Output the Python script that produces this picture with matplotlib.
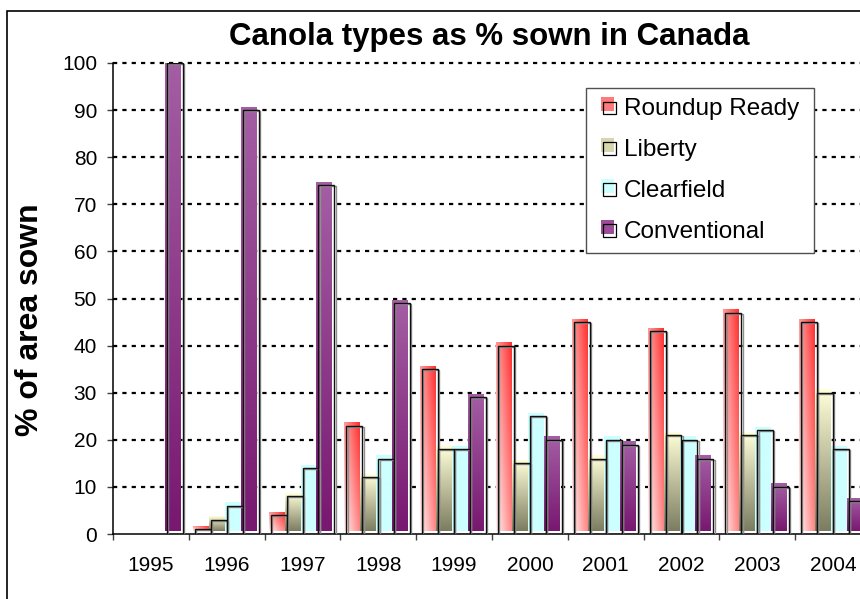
import numpy as np
import matplotlib
matplotlib.use('Agg')
import matplotlib.pyplot as plt
from matplotlib.patches import Rectangle, Patch
from matplotlib.legend_handler import HandlerBase

plt.rcParams['font.family'] = ['Liberation Sans', 'DejaVu Sans']

# Data (% of canola area sown)
years = ['1995', '1996', '1997', '1998', '1999', '2000', '2001', '2002', '2003', '2004']
roundup = [0, 1, 4, 23, 35, 40, 45, 43, 47, 45]
liberty = [0, 3, 8, 12, 18, 15, 16, 21, 21, 30]
clearfield = [0, 6, 14, 16, 18, 25, 20, 20, 22, 18]
conventional = [100, 90, 74, 49, 29, 20, 19, 16, 10, 7]
series_names = ['Roundup Ready', 'Liberty', 'Clearfield', 'Conventional']
yticks = list(range(0, 101, 10))

W, H = 860, 599
fig = plt.figure(figsize=(W / 100, H / 100), dpi=100)
# plot area in pixels: x 113..871 (runs off the right edge), y 63..534
ax = fig.add_axes([113 / W, (H - 534) / H, 758 / W, 471 / H])
ax.set_autoscale_on(False)
ax.set_xlim(0, len(years))
ax.set_ylim(0, 100)

px = len(years) / 758.0   # one pixel in x data units
py = 100 / 471.0          # one pixel in y data units


def hex2rgb(h):
    return np.array(matplotlib.colors.to_rgb(h))


def gradient(kind, nx=24, ny=96):
    xf = np.linspace(0, 1, nx)[None, :, None]
    yf = np.linspace(0, 1, ny)[:, None, None]
    if kind == 0:   # pink -> red, towards top right
        t = 0.55 * xf + 0.45 * yf
        lo, hi = hex2rgb('#FFF2F2'), hex2rgb('#FF3030')
    elif kind == 1:  # olive -> pale yellow, bottom to top
        t = yf + 0 * xf
        lo, hi = hex2rgb('#7C7C60'), hex2rgb('#FFFFD8')
    elif kind == 2:
        t = 0 * yf + 0 * xf
        lo, hi = hex2rgb('#CCFFFF'), hex2rgb('#CCFFFF')
    else:
        t = yf + 0 * xf
        lo, hi = hex2rgb('#781870'), hex2rgb('#A45EA4')
    return lo + (hi - lo) * t


all_series = [roundup, liberty, clearfield, conventional]
gap = 0.75
bw = 1.0 / (len(all_series) + gap)
for k, vals in enumerate(all_series):
    img = gradient(k)
    for i, v in enumerate(vals):
        if v <= 0:
            continue
        x0 = i + gap * bw / 2 + k * bw
        # filled body, nudged up/left like the original rendering
        ax.imshow(img, extent=[x0 - 2 * px, x0 + bw - 2 * px, 3 * py, v + 3 * py],
                  origin='lower', aspect='auto', interpolation='bilinear', zorder=2)
        # outline with a grey shadow
        ax.add_patch(Rectangle((x0 + 1.2 * px, -py), bw, v, fill=False,
                               edgecolor='#909090', lw=1.0, zorder=3))
        ax.add_patch(Rectangle((x0, 0), bw, v, fill=False,
                               edgecolor='#101010', lw=1.0, zorder=3))

# dotted gridlines
ax.hlines(yticks[1:], 0, len(years), colors='black', lw=1.6,
          linestyles=(0, (1.9, 2.3)), zorder=1, clip_on=False)

ax.set_yticks(yticks)
ax.set_xticks(np.arange(len(years)) + 0.5)
ax.set_xticklabels(years)
ax.set_xticks(np.arange(len(years) + 1), minor=True)
ax.tick_params(axis='y', labelsize=15, length=4.5, width=1, color='#404040', pad=7)
ax.tick_params(axis='x', which='major', labelsize=15, length=0, pad=16)
ax.tick_params(axis='x', which='minor', length=4.5, width=1, color='#404040')
for s in ['top', 'right']:
    ax.spines[s].set_visible(False)
for s in ['left', 'bottom']:
    ax.spines[s].set_linewidth(1.1)
    ax.spines[s].set_color('black')

fig.text(489 / W, 1 - 37 / H, 'Canola types as % sown in Canada',
         ha='center', va='center', fontsize=22.5, fontweight='bold')
fig.text(30 / W, 1 - 320 / H, '% of area sown', rotation=90,
         ha='center', va='center', fontsize=23, fontweight='bold')


class SquareHandler(HandlerBase):
    def create_artists(self, legend, orig_handle, xdescent, ydescent,
                       width, height, fontsize, trans):
        s = height
        y0 = -ydescent + (height - s) / 2
        fill = Rectangle((-xdescent - 1, y0 + 1.5), s, s,
                         facecolor=orig_handle.get_facecolor(), edgecolor='none',
                         transform=trans)
        box = Rectangle((-xdescent + 1, y0 - 0.5), s * 0.9, s * 0.9, fill=False,
                        edgecolor='black', lw=0.9, transform=trans)
        return [fill, box]


legend_colors = ['#FF7A7A', '#D6D6B0', '#CCFFFF', '#9A4C98']
handles = [Patch(facecolor=c) for c in legend_colors]
leg = fig.legend(handles, series_names, loc='upper left',
                 bbox_to_anchor=(602 / W, 1 - 98 / H), frameon=False,
                 fontsize=17.5, borderpad=0, borderaxespad=0,
                 handlelength=0.5, handleheight=0.5, handletextpad=0.4,
                 labelspacing=0.78, handler_map={Patch: SquareHandler()})
leg.set_zorder(6)
# legend box (white, hides the gridlines)
fig.add_artist(Rectangle((586 / W, 1 - 253 / H), 228 / W, 165 / H,
                         transform=fig.transFigure, facecolor='white',
                         edgecolor='#505050', lw=1.0, zorder=5))
# chart border (runs off right and bottom edges)
fig.add_artist(Rectangle((7 / W, -0.05), 1.0, 1 - 11 / H + 0.05,
                         transform=fig.transFigure, fill=False,
                         edgecolor='black', lw=1.2))

fig.savefig('out.png', dpi=100)
